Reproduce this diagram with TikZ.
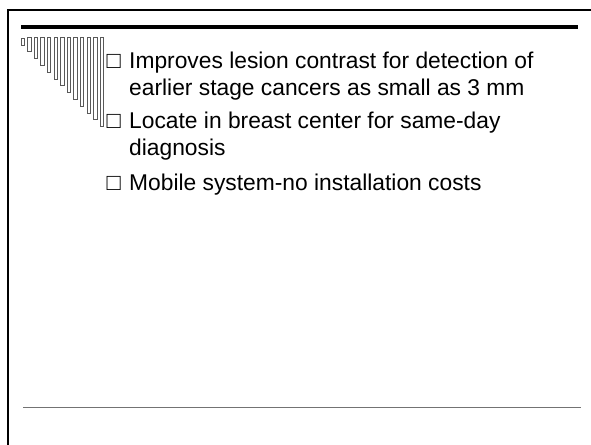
\documentclass[tikz,border=0pt]{standalone}
\usepackage{fontspec}
\setmainfont{Liberation Sans}
\begin{document}
\begin{tikzpicture}[x=1pt,y=-1pt,
  frameline/.style={line width=2pt,black},
  barstyle/.style={draw=black!65,line width=0.8pt,fill=white},
  itemtext/.style={anchor=base west,inner sep=0pt,font=\fontsize{22.8}{26.7}\selectfont},
  boxglyph/.style={anchor=base west,inner sep=0pt,font=\fontsize{23.5}{26.7}\selectfont}]
\useasboundingbox (0,0) rectangle (591,444);
% frame
\coordinate (fa) at (8,444);
\coordinate (fb) at (8,10);
\coordinate (fc) at (591,10);
\draw[frameline,line cap=rect] (fa) -- (fb) -- (fc);
% title rule
\coordinate (ta) at (21,27.2);
\coordinate (tb) at (578,27.2);
\draw[line width=4.2pt,black] (ta) -- (tb);
% bottom rule
\coordinate (ba) at (23,407.3);
\coordinate (bb) at (581,407.3);
\draw[line width=1.6pt,black!55] (ba) -- (bb);
% decorative bars
\foreach \i in {0,...,12}{
  \pgfmathsetmacro{\xl}{21+6.6*\i}
  \pgfmathsetmacro{\yb}{45+6.8*\i}
  \pgfmathsetmacro{\yt}{ifthenelse(\i==0,38.5,37)}
  \draw[barstyle] (\xl,\yt) rectangle (\xl+3.3,\yb);
}
% items
\node[boxglyph] (b1) at (106.5,68.3) {□};
\node[itemtext] (t1a) at (129,68.3) {Improves lesion contrast for detection of};
\node[itemtext] (t1b) at (129,95) {earlier stage cancers as small as 3 mm};
\node[boxglyph] (b2) at (106.5,128.3) {□};
\node[itemtext] (t2a) at (129,128.3) {Locate in breast center for same-day};
\node[itemtext] (t2b) at (129,155) {diagnosis};
\node[boxglyph] (b3) at (106.5,190) {□};
\node[itemtext] (t3) at (129,190) {Mobile system-no installation costs};
\end{tikzpicture}
\end{document}
